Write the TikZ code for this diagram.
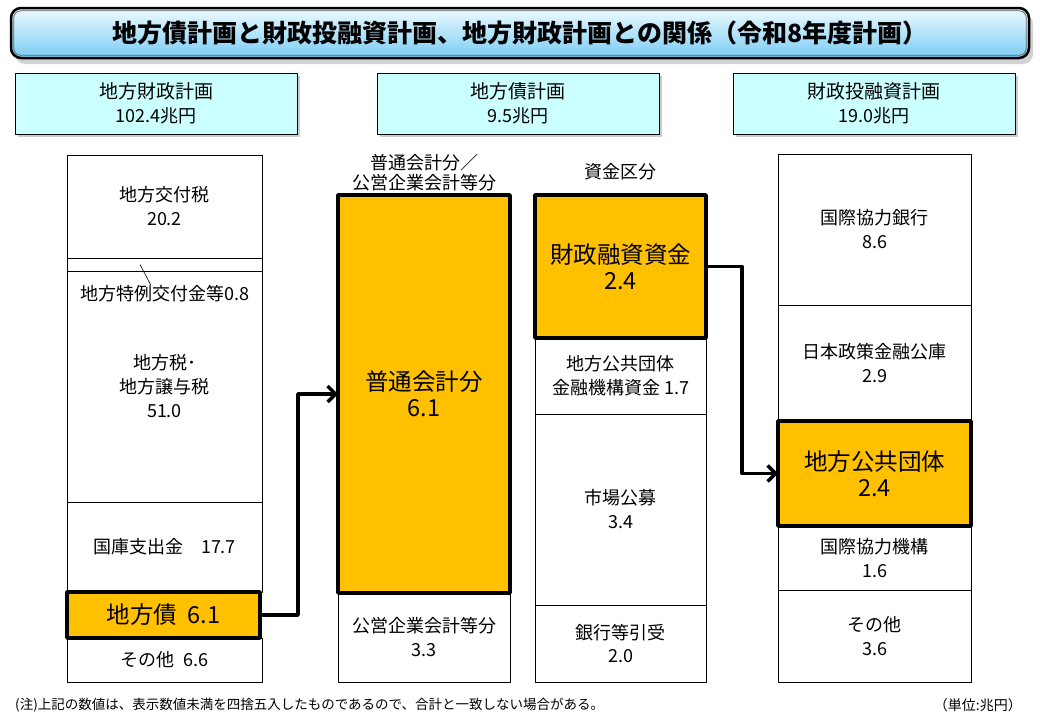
\documentclass[tikz,border=0pt]{standalone}
\usepackage{fontspec}
\setmainfont{Noto Sans CJK JP}
\usetikzlibrary{arrows.meta,shadows}
\definecolor{hiorange}{HTML}{FFC000}
\definecolor{hdrcyan}{HTML}{CCFFFF}
\definecolor{ttltop}{HTML}{EEFAFF}
\definecolor{ttlbot}{HTML}{7ACCF4}

\tikzset{
  cell/.style={draw, line width=0.9pt, fill=white, inner sep=0pt, outer sep=0pt, anchor=north west, align=center, font=\fontsize{18}{24}\selectfont},
  hot/.style={cell, line width=3.5pt, fill=hiorange, font=\fontsize{23.5}{26}\selectfont},
  hdr/.style={draw, line width=0.9pt, fill=hdrcyan, minimum width=282pt, minimum height=61pt, align=center, font=\fontsize{19}{24}\selectfont, drop shadow={shadow xshift=3pt, shadow yshift=-3pt, fill=black!40}},
  flow/.style={line width=3.5pt, line join=round, -{Straight Barb[length=8pt, width=16pt]}}
}

\begin{document}
\begin{tikzpicture}[x=1pt, y=-1pt, line join=round]
\useasboundingbox (0,0) rectangle (1040,720);
% title
\node[draw, line width=2.5pt, rounded corners=10pt, minimum width=1018pt, minimum height=50pt, top color=ttltop, bottom color=ttlbot, drop shadow={shadow xshift=4pt, shadow yshift=-6pt, fill=black!35}, font=\fontsize{25}{25}\selectfont\bfseries] (title) at (520,33) {地方債計画と財政投融資計画、地方財政計画との関係（令和8年度計画）};
\draw[line width=0.8pt, black!60, rounded corners=7pt] ([shift={(4pt,-4pt)}]title.north west) rectangle ([shift={(-4pt,4pt)}]title.south east);
% headers
\node[hdr] (hzaisei) at (156,103.5) {地方財政計画\\{\fontsize{18}{18}\selectfont 102.4兆円}};
\node[hdr] (hchisai) at (518,103.5) {地方債計画\\{\fontsize{18}{18}\selectfont 9.5兆円}};
\node[hdr] (hzaitou) at (874,103.5) {財政投融資計画\\{\fontsize{18}{18}\selectfont 19.0兆円}};
\node[align=center, font=\fontsize{18}{20}\selectfont] (lblfutsuu) at (424,173) {普通会計分／\\公営企業会計等分};
\node[font=\fontsize{18}{20}\selectfont] (lblshikin) at (620,172) {資金区分};
% columns
\foreach \n/\y/\h/\t in {kofuzei/155/103/地方交付税\\20.2, tokurei/258/13/, chihouzei/271/231/地方税･\\地方譲与税\\51.0, kokko/502/90/国庫支出金\quad 17.7, sonota/638/44/その他\ \ 6.6}
  \node[cell, minimum width=195pt, minimum height=\h pt] (\n) at (67,\y) {\t};
\node[cell, minimum width=172pt, minimum height=89pt] (kouei) at (338,593) {公営企業会計等分\\3.3};
\foreach \n/\y/\h/\t in {kikou/338/76/地方公共団体\\金融機構資金 1.7, shijou/414/191/市場公募\\3.4, ginkou/605/77/銀行等引受\\2.0}
  \node[cell, minimum width=171pt, minimum height=\h pt] (\n) at (535,\y) {\t};
\foreach \n/\y/\h/\t in {jbic/154/151/国際協力銀行\\8.6, jfc/305/116/日本政策金融公庫\\2.9, jica/526/64/国際協力機構\\1.6, sonotaz/590/92/その他\\3.6}
  \node[cell, minimum width=193pt, minimum height=\h pt] (\n) at (778,\y) {\t};
\node[hot, minimum width=193pt, minimum height=46pt] (chisai) at (67,592) {地方債\ \ 6.1};
\node[hot, minimum width=172pt, minimum height=398pt] (futsuu) at (338,195) {普通会計分\\6.1};
\node[hot, minimum width=171pt, minimum height=143pt] (zaitou) at (535,195) {財政融資資金\\2.4};
\node[hot, minimum width=193pt, minimum height=105pt] (chidan) at (778,421) {地方公共団体\\2.4};
\node[inner sep=0pt, font=\fontsize{18}{18}\selectfont] (tokureilbl) at (165,294) {地方特例交付金等0.8};
\draw[line width=0.6pt] ([xshift=73pt]tokurei.west) -- ([xshift=-14pt]tokureilbl.north);
% flows
\draw[flow] (chisai.east) -- ++(38,0) |- (futsuu.west);
\draw[flow] (zaitou.east) -- ++(36,0) |- (chidan.west);
% notes
\node[anchor=west, inner sep=0pt, font=\fontsize{13.5}{13.5}\selectfont] (note) at (15,705) {(注)上記の数値は、表示数値未満を四捨五入したものであるので、合計と一致しない場合がある。};
\node[anchor=east, inner sep=0pt, font=\fontsize{14}{14}\selectfont] (unit) at (1022,705) {（単位:兆円）};
\end{tikzpicture}
\end{document}
